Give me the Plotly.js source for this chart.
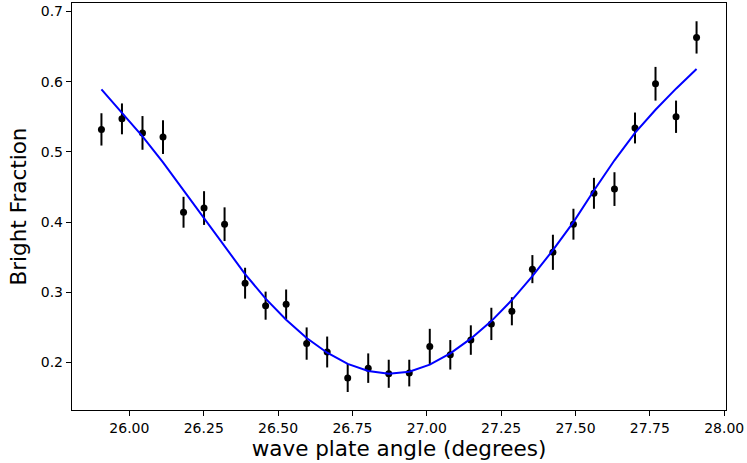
<!DOCTYPE html>
<html>
<head>
<meta charset="utf-8">
<script src="https://cdn.plot.ly/plotly-3.0.1.min.js"></script>
<style>html,body{margin:0;padding:0;background:#fff;}#chart{width:747px;height:463px;}</style>
</head>
<body>
<div id="chart"></div>
<script>
// wave plate angle (degrees)
const angles = [25.906, 25.975, 26.044, 26.113, 26.182, 26.251, 26.320, 26.389, 26.458, 26.527,
                26.596, 26.665, 26.734, 26.803, 26.872, 26.941, 27.010, 27.079, 27.148, 27.217,
                27.286, 27.355, 27.424, 27.493, 27.562, 27.631, 27.700, 27.769, 27.838, 27.907];
// measured bright fraction
const brightFraction = [0.532, 0.547, 0.527, 0.521, 0.414, 0.420, 0.397, 0.313, 0.281, 0.283,
                        0.227, 0.215, 0.178, 0.192, 0.184, 0.185, 0.223, 0.211, 0.232, 0.255,
                        0.273, 0.333, 0.357, 0.397, 0.441, 0.447, 0.534, 0.597, 0.550, 0.663];
// uncertainty
const brightErr = [0.023, 0.022, 0.024, 0.024, 0.022, 0.024, 0.024, 0.022, 0.020, 0.021,
                   0.023, 0.022, 0.020, 0.021, 0.020, 0.019, 0.025, 0.021, 0.021, 0.023,
                   0.020, 0.020, 0.025, 0.022, 0.022, 0.024, 0.022, 0.024, 0.023, 0.023];
// fitted curve evaluated at the same angles
const fitValues = [0.589, 0.556, 0.522, 0.485, 0.445, 0.405, 0.365, 0.326, 0.291, 0.261,
                   0.235, 0.214, 0.198, 0.188, 0.184, 0.187, 0.197, 0.213, 0.234, 0.259,
                   0.289, 0.323, 0.360, 0.400, 0.445, 0.488, 0.527, 0.560, 0.590, 0.618];

const xTicks = [26.00, 26.25, 26.50, 26.75, 27.00, 27.25, 27.50, 27.75, 28.00];
const yTicks = [0.2, 0.3, 0.4, 0.5, 0.6, 0.7];

const font = "DejaVu Sans, sans-serif";

const traces = [
  {
    x: angles, y: brightFraction, type: 'scatter', mode: 'markers',
    marker: {color: '#000000', size: 7},
    error_y: {type: 'data', array: brightErr, visible: true, color: '#000000', thickness: 2, width: 0},
    showlegend: false, hoverinfo: 'skip'
  },
  {
    x: angles, y: fitValues, type: 'scatter', mode: 'lines',
    line: {color: '#0000ff', width: 2},
    showlegend: false, hoverinfo: 'skip'
  }
];

const axisCommon = {
  showgrid: false, zeroline: false, showline: true, mirror: true,
  linecolor: '#000000', linewidth: 1.2,
  ticks: 'outside', ticklen: 5, tickwidth: 1, tickcolor: '#000000',
  tickfont: {family: font, size: 14, color: '#000000'}
};

const layout = {
  width: 747, height: 463,
  margin: {l: 72, r: 21, t: 3, b: 53},
  paper_bgcolor: '#ffffff', plot_bgcolor: '#ffffff',
  font: {family: font, color: '#000000'},
  xaxis: Object.assign({}, axisCommon, {
    range: [25.807, 28.006],
    tickvals: xTicks, ticktext: xTicks.map(v => v.toFixed(2)),
    title: {text: 'wave plate angle (degrees)', font: {family: font, size: 21.5, color: '#000000'}, standoff: 6}
  }),
  yaxis: Object.assign({}, axisCommon, {
    range: [0.1324, 0.712],
    tickvals: yTicks, ticktext: yTicks.map(v => v.toFixed(1)),
    title: {text: 'Bright Fraction', font: {family: font, size: 21.5, color: '#000000'}, standoff: 8}
  })
};

Plotly.newPlot('chart', traces, layout, {displayModeBar: false, staticPlot: true});
</script>
</body>
</html>
